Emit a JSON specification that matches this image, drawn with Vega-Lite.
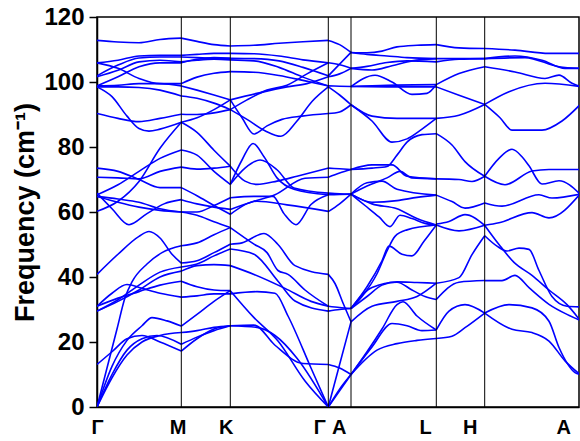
{
  "$schema": "https://vega.github.io/schema/vega-lite/v6.json",
  "width": 482,
  "height": 390,
  "autosize": "none",
  "padding": {"left": 97, "top": 17, "right": 1, "bottom": 34},
  "background": "white",
  "config": {"view": {"stroke": "black", "strokeWidth": 1.5}, "font": "Liberation Sans"},
  "layer": [
    {
      "data": {"values": [
        {"b":"GM1","k":0,"f":112.8},{"b":"GM1","k":21,"f":112.3},{"b":"GM1","k":42,"f":112.1},{"b":"GM1","k":63,"f":113.1},{"b":"GM1","k":84.3,"f":113.5},
        {"b":"GM2","k":0,"f":105.9},{"b":"GM2","k":21,"f":106.7},{"b":"GM2","k":42,"f":108.0},{"b":"GM2","k":63,"f":108.2},{"b":"GM2","k":84.3,"f":108.2},
        {"b":"GM3","k":0,"f":101.9},{"b":"GM3","k":21,"f":105.2},{"b":"GM3","k":42,"f":107.4},{"b":"GM3","k":63,"f":107.7},{"b":"GM3","k":84.3,"f":107.7},
        {"b":"GM4","k":0,"f":101.6},{"b":"GM4","k":21,"f":103.6},{"b":"GM4","k":42,"f":106.2},{"b":"GM4","k":63,"f":106.7},{"b":"GM4","k":84.3,"f":106.2},
        {"b":"GM5","k":0,"f":98.8},{"b":"GM5","k":21,"f":101.6},{"b":"GM5","k":42,"f":104.7},{"b":"GM5","k":63,"f":105.9},{"b":"GM5","k":84.3,"f":105.9},
        {"b":"GM6","k":0,"f":105.9},{"b":"GM6","k":21,"f":104.2},{"b":"GM6","k":42,"f":101.1},{"b":"GM6","k":63,"f":99.5},{"b":"GM6","k":84.3,"f":99.5},
        {"b":"GM7","k":0,"f":98.8},{"b":"GM7","k":21,"f":99.0},{"b":"GM7","k":42,"f":99.5},{"b":"GM7","k":63,"f":99.5},{"b":"GM7","k":84.3,"f":98.8},
        {"b":"GM8","k":0,"f":98.5},{"b":"GM8","k":21,"f":98.5},{"b":"GM8","k":42,"f":98.3},{"b":"GM8","k":63,"f":97.5},{"b":"GM8","k":84.3,"f":95.7},
        {"b":"GM9","k":0,"f":98.5},{"b":"GM9","k":15,"f":95.5},{"b":"GM9","k":30,"f":89.5},{"b":"GM9","k":42,"f":85.7},{"b":"GM9","k":52,"f":84.9},{"b":"GM9","k":63,"f":85.5},{"b":"GM9","k":84.3,"f":87.6},
        {"b":"GM10","k":0,"f":90.3},{"b":"GM10","k":21,"f":88.8},{"b":"GM10","k":42,"f":87.8},{"b":"GM10","k":63,"f":88.8},{"b":"GM10","k":84.3,"f":90.1},
        {"b":"GM11","k":0,"f":60.2},{"b":"GM11","k":21,"f":63.3},{"b":"GM11","k":42,"f":69.4},{"b":"GM11","k":63,"f":79.6},{"b":"GM11","k":84.3,"f":87.6},
        {"b":"GM12","k":0,"f":65.3},{"b":"GM12","k":21,"f":68.4},{"b":"GM12","k":42,"f":72.5},{"b":"GM12","k":63,"f":76.5},{"b":"GM12","k":84.3,"f":79.1},
        {"b":"GM13","k":0,"f":73.5},{"b":"GM13","k":21,"f":72.5},{"b":"GM13","k":42,"f":70},{"b":"GM13","k":63,"f":67.5},{"b":"GM13","k":84.3,"f":67.5},
        {"b":"GM14","k":0,"f":70.7},{"b":"GM14","k":21,"f":70.5},{"b":"GM14","k":42,"f":70.2},{"b":"GM14","k":63,"f":72.5},{"b":"GM14","k":84.3,"f":73.8},
        {"b":"GM15","k":0,"f":65.8},{"b":"GM15","k":15,"f":61},{"b":"GM15","k":32,"f":56.1},{"b":"GM15","k":50,"f":59.5},{"b":"GM15","k":67,"f":62.5},{"b":"GM15","k":84.3,"f":63.8},
        {"b":"GM16","k":0,"f":64.8},{"b":"GM16","k":21,"f":64},{"b":"GM16","k":42,"f":63},{"b":"GM16","k":63,"f":61},{"b":"GM16","k":84.3,"f":60.0},
        {"b":"GM17","k":0,"f":64.8},{"b":"GM17","k":21,"f":63},{"b":"GM17","k":42,"f":61.5},{"b":"GM17","k":63,"f":60.5},{"b":"GM17","k":84.3,"f":60.0},
        {"b":"GM18","k":0,"f":40.8},{"b":"GM18","k":21,"f":47},{"b":"GM18","k":42,"f":52.5},{"b":"GM18","k":52,"f":54},{"b":"GM18","k":63,"f":52},{"b":"GM18","k":75,"f":47},{"b":"GM18","k":84.3,"f":44.3},
        {"b":"GM19","k":0,"f":31.0},{"b":"GM19","k":15,"f":35},{"b":"GM19","k":30,"f":37.7},{"b":"GM19","k":45,"f":36.5},{"b":"GM19","k":63,"f":35},{"b":"GM19","k":84.3,"f":33.8},
        {"b":"GM20","k":0,"f":29.5},{"b":"GM20","k":21,"f":32.5},{"b":"GM20","k":42,"f":36},{"b":"GM20","k":63,"f":40},{"b":"GM20","k":84.3,"f":41.8},
        {"b":"GM21","k":0,"f":31},{"b":"GM21","k":21,"f":33.5},{"b":"GM21","k":42,"f":35.5},{"b":"GM21","k":63,"f":37.5},{"b":"GM21","k":84.3,"f":38.7},
        {"b":"GM22","k":0,"f":0},{"b":"GM22","k":10,"f":12},{"b":"GM22","k":20,"f":24},{"b":"GM22","k":28,"f":33.6},{"b":"GM22","k":35,"f":38.5},{"b":"GM22","k":50,"f":44},{"b":"GM22","k":65,"f":47.5},{"b":"GM22","k":84.3,"f":49.6},
        {"b":"GM23","k":0,"f":0},{"b":"GM23","k":15,"f":12.5},{"b":"GM23","k":30,"f":20.5},{"b":"GM23","k":45,"f":25},{"b":"GM23","k":55,"f":27.5},{"b":"GM23","k":70,"f":26.5},{"b":"GM23","k":84.3,"f":24.9},
        {"b":"GM24","k":0,"f":0},{"b":"GM24","k":15,"f":10},{"b":"GM24","k":30,"f":17.5},{"b":"GM24","k":45,"f":21},{"b":"GM24","k":60,"f":22},{"b":"GM24","k":84.3,"f":19.3},
        {"b":"GM25","k":0,"f":13.1},{"b":"GM25","k":15,"f":17},{"b":"GM25","k":30,"f":21},{"b":"GM25","k":45,"f":22},{"b":"GM25","k":63,"f":20},{"b":"GM25","k":84.3,"f":17.2},
        {"b":"GM26","k":0,"f":0},{"b":"GM26","k":15,"f":9},{"b":"GM26","k":30,"f":16},{"b":"GM26","k":45,"f":20},{"b":"GM26","k":63,"f":22},{"b":"GM26","k":84.3,"f":22.9},
        {"b":"GM27","k":0,"f":29.5},{"b":"GM27","k":21,"f":33},{"b":"GM27","k":42,"f":37.5},{"b":"GM27","k":63,"f":41.5},{"b":"GM27","k":84.3,"f":43.1},

        {"b":"MK1","k":84.3,"f":113.5},{"b":"MK1","k":100,"f":112.5},{"b":"MK1","k":117,"f":111.5},{"b":"MK1","k":133.3,"f":111.1},
        {"b":"MK2","k":84.3,"f":108.2},{"b":"MK2","k":100,"f":108.5},{"b":"MK2","k":117,"f":108.8},{"b":"MK2","k":133.3,"f":108.8},
        {"b":"MK3","k":84.3,"f":107.7},{"b":"MK3","k":100,"f":107.5},{"b":"MK3","k":117,"f":107.3},{"b":"MK3","k":133.3,"f":107.3},
        {"b":"MK4","k":84.3,"f":106.2},{"b":"MK4","k":100,"f":106.7},{"b":"MK4","k":117,"f":107},{"b":"MK4","k":133.3,"f":106.8},
        {"b":"MK5","k":84.3,"f":105.9},{"b":"MK5","k":100,"f":107},{"b":"MK5","k":117,"f":107.5},{"b":"MK5","k":133.3,"f":107.3},
        {"b":"MK6","k":84.3,"f":99.5},{"b":"MK6","k":100,"f":101.5},{"b":"MK6","k":117,"f":102.7},{"b":"MK6","k":133.3,"f":103.2},
        {"b":"MK7","k":84.3,"f":98.8},{"b":"MK7","k":100,"f":97.5},{"b":"MK7","k":117,"f":96},{"b":"MK7","k":133.3,"f":94.5},
        {"b":"MK8","k":84.3,"f":95.7},{"b":"MK8","k":100,"f":95},{"b":"MK8","k":117,"f":93.5},{"b":"MK8","k":133.3,"f":91.5},
        {"b":"MK9","k":84.3,"f":90.1},{"b":"MK9","k":100,"f":90},{"b":"MK9","k":117,"f":90.5},{"b":"MK9","k":133.3,"f":91.5},
        {"b":"MK10","k":84.3,"f":87.6},{"b":"MK10","k":100,"f":89},{"b":"MK10","k":117,"f":91.5},{"b":"MK10","k":133.3,"f":94.5},
        {"b":"MK11","k":84.3,"f":87.6},{"b":"MK11","k":100,"f":84.5},{"b":"MK11","k":117,"f":79},{"b":"MK11","k":133.3,"f":74.1},
        {"b":"MK12","k":84.3,"f":79.1},{"b":"MK12","k":100,"f":77.5},{"b":"MK12","k":117,"f":72.5},{"b":"MK12","k":133.3,"f":68.5},
        {"b":"MK13","k":84.3,"f":73.8},{"b":"MK13","k":100,"f":73.2},{"b":"MK13","k":117,"f":73.5},{"b":"MK13","k":133.3,"f":74.1},
        {"b":"MK14","k":84.3,"f":67.5},{"b":"MK14","k":100,"f":65},{"b":"MK14","k":117,"f":62},{"b":"MK14","k":133.3,"f":59.3},
        {"b":"MK15","k":84.3,"f":63.8},{"b":"MK15","k":100,"f":62.5},{"b":"MK15","k":117,"f":61.5},{"b":"MK15","k":133.3,"f":60.8},
        {"b":"MK16","k":84.3,"f":60},{"b":"MK16","k":100,"f":60},{"b":"MK16","k":117,"f":62},{"b":"MK16","k":133.3,"f":64.4},
        {"b":"MK17","k":84.3,"f":60},{"b":"MK17","k":100,"f":59},{"b":"MK17","k":117,"f":57},{"b":"MK17","k":133.3,"f":55.2},
        {"b":"MK18","k":84.3,"f":49.6},{"b":"MK18","k":100,"f":50.5},{"b":"MK18","k":117,"f":53},{"b":"MK18","k":133.3,"f":55.2},
        {"b":"MK19","k":84.3,"f":44.3},{"b":"MK19","k":100,"f":45},{"b":"MK19","k":117,"f":47.5},{"b":"MK19","k":133.3,"f":50.1},
        {"b":"MK20","k":84.3,"f":43.1},{"b":"MK20","k":100,"f":44},{"b":"MK20","k":117,"f":46.5},{"b":"MK20","k":133.3,"f":48.6},
        {"b":"MK21","k":84.3,"f":41.8},{"b":"MK21","k":100,"f":43.5},{"b":"MK21","k":117,"f":43.8},{"b":"MK21","k":133.3,"f":43.5},
        {"b":"MK22","k":84.3,"f":38.7},{"b":"MK22","k":100,"f":37},{"b":"MK22","k":117,"f":36},{"b":"MK22","k":133.3,"f":35.8},
        {"b":"MK23","k":84.3,"f":33.8},{"b":"MK23","k":100,"f":34.2},{"b":"MK23","k":117,"f":34.8},{"b":"MK23","k":133.3,"f":34.8},
        {"b":"MK24","k":84.3,"f":24.9},{"b":"MK24","k":100,"f":28.5},{"b":"MK24","k":117,"f":32.5},{"b":"MK24","k":133.3,"f":35.8},
        {"b":"MK25","k":84.3,"f":22.9},{"b":"MK25","k":100,"f":23.5},{"b":"MK25","k":117,"f":24.5},{"b":"MK25","k":133.3,"f":25},
        {"b":"MK26","k":84.3,"f":19.3},{"b":"MK26","k":100,"f":21.5},{"b":"MK26","k":117,"f":23.5},{"b":"MK26","k":133.3,"f":25},
        {"b":"MK27","k":84.3,"f":17.2},{"b":"MK27","k":100,"f":21},{"b":"MK27","k":117,"f":24},{"b":"MK27","k":133.3,"f":25},

        {"b":"KG1","k":133.3,"f":111.1},{"b":"KG1","k":157,"f":111.3},{"b":"KG1","k":182,"f":111.9},{"b":"KG1","k":206,"f":112.4},{"b":"KG1","k":231.3,"f":112.8},
        {"b":"KG2","k":133.3,"f":108.8},{"b":"KG2","k":157,"f":108.7},{"b":"KG2","k":182,"f":108},{"b":"KG2","k":206,"f":106.8},{"b":"KG2","k":231.3,"f":105.9},
        {"b":"KG3","k":133.3,"f":107.3},{"b":"KG3","k":157,"f":107.2},{"b":"KG3","k":182,"f":106.5},{"b":"KG3","k":206,"f":104.5},{"b":"KG3","k":231.3,"f":101.9},
        {"b":"KG4","k":133.3,"f":106.8},{"b":"KG4","k":157,"f":106.5},{"b":"KG4","k":182,"f":104.5},{"b":"KG4","k":206,"f":101.5},{"b":"KG4","k":231.3,"f":98.8},
        {"b":"KG5","k":133.3,"f":103.2},{"b":"KG5","k":157,"f":103},{"b":"KG5","k":182,"f":102},{"b":"KG5","k":206,"f":100.5},{"b":"KG5","k":231.3,"f":98.8},
        {"b":"KG6","k":133.3,"f":94.5},{"b":"KG6","k":145,"f":89},{"b":"KG6","k":157,"f":84},{"b":"KG6","k":170,"f":86.5},{"b":"KG6","k":185,"f":88.5},{"b":"KG6","k":205,"f":89.5},{"b":"KG6","k":231.3,"f":90.3},
        {"b":"KG7","k":133.3,"f":91.5},{"b":"KG7","k":150,"f":88.5},{"b":"KG7","k":168,"f":85},{"b":"KG7","k":184,"f":83.3},{"b":"KG7","k":200,"f":88},{"b":"KG7","k":215,"f":94},{"b":"KG7","k":231.3,"f":98.5},
        {"b":"KG8","k":133.3,"f":91.5},{"b":"KG8","k":150,"f":94.5},{"b":"KG8","k":170,"f":97.5},{"b":"KG8","k":190,"f":99},{"b":"KG8","k":210,"f":102.5},{"b":"KG8","k":231.3,"f":105.9},
        {"b":"KG9","k":133.3,"f":94.5},{"b":"KG9","k":160,"f":96.5},{"b":"KG9","k":190,"f":98.5},{"b":"KG9","k":210,"f":99.5},{"b":"KG9","k":231.3,"f":101.6},
        {"b":"KG10","k":133.3,"f":68.5},{"b":"KG10","k":145,"f":76},{"b":"KG10","k":156,"f":81.1},{"b":"KG10","k":167,"f":77},{"b":"KG10","k":180,"f":70.5},{"b":"KG10","k":197,"f":67},{"b":"KG10","k":231.3,"f":65.3},
        {"b":"KG11","k":133.3,"f":74.1},{"b":"KG11","k":148,"f":69.5},{"b":"KG11","k":160,"f":68.5},{"b":"KG11","k":180,"f":69.5},{"b":"KG11","k":200,"f":71},{"b":"KG11","k":231.3,"f":73.5},
        {"b":"KG12","k":133.3,"f":68.5},{"b":"KG12","k":148,"f":73.5},{"b":"KG12","k":163,"f":76},{"b":"KG12","k":180,"f":73},{"b":"KG12","k":197,"f":67.4},{"b":"KG12","k":231.3,"f":65.8},
        {"b":"KG13","k":133.3,"f":64.4},{"b":"KG13","k":157,"f":64.8},{"b":"KG13","k":176,"f":64.8},{"b":"KG13","k":187,"f":59.5},{"b":"KG13","k":199,"f":56.1},{"b":"KG13","k":214,"f":62.3},{"b":"KG13","k":231.3,"f":65.3},
        {"b":"KG14","k":133.3,"f":60.8},{"b":"KG14","k":157,"f":63.3},{"b":"KG14","k":178,"f":65.3},{"b":"KG14","k":208,"f":70.4},{"b":"KG14","k":231.3,"f":70.7},
        {"b":"KG15","k":133.3,"f":59.3},{"b":"KG15","k":160,"f":63.3},{"b":"KG15","k":190,"f":62.2},{"b":"KG15","k":231.3,"f":60.2},
        {"b":"KG16","k":133.3,"f":55.2},{"b":"KG16","k":157,"f":50.1},{"b":"KG16","k":170,"f":47.5},{"b":"KG16","k":181,"f":42},{"b":"KG16","k":191,"f":40.8},{"b":"KG16","k":208,"f":36},{"b":"KG16","k":231.3,"f":31.0},
        {"b":"KG17","k":133.3,"f":50.1},{"b":"KG17","k":145,"f":50.5},{"b":"KG17","k":167,"f":53.4},{"b":"KG17","k":181,"f":50},{"b":"KG17","k":198,"f":43.5},{"b":"KG17","k":231.3,"f":40.8},
        {"b":"KG18","k":133.3,"f":48.6},{"b":"KG18","k":157,"f":47},{"b":"KG18","k":181,"f":38.7},{"b":"KG18","k":198,"f":32.6},{"b":"KG18","k":231.3,"f":29.5},
        {"b":"KG19","k":133.3,"f":43.5},{"b":"KG19","k":157,"f":40.8},{"b":"KG19","k":188,"f":36.5},{"b":"KG19","k":214,"f":32.5},{"b":"KG19","k":231.3,"f":31},
        {"b":"KG20","k":133.3,"f":35.8},{"b":"KG20","k":157,"f":27.5},{"b":"KG20","k":181,"f":20.3},{"b":"KG20","k":208,"f":8},{"b":"KG20","k":231.3,"f":0},
        {"b":"KG21","k":133.3,"f":34.8},{"b":"KG21","k":160,"f":35.5},{"b":"KG21","k":178,"f":35},{"b":"KG21","k":191,"f":28},{"b":"KG21","k":214,"f":12},{"b":"KG21","k":231.3,"f":0},
        {"b":"KG22","k":133.3,"f":25},{"b":"KG22","k":160,"f":24.5},{"b":"KG22","k":178,"f":22},{"b":"KG22","k":200,"f":15},{"b":"KG22","k":231.3,"f":0},
        {"b":"KG23","k":133.3,"f":25},{"b":"KG23","k":157,"f":25.2},{"b":"KG23","k":178,"f":19},{"b":"KG23","k":206,"f":13.4},{"b":"KG23","k":231.3,"f":13.1},

        {"b":"GA1","k":231.3,"f":112.8},{"b":"GA1","k":242.6,"f":111.5},{"b":"GA1","k":254,"f":109.1},
        {"b":"GA2","k":231.3,"f":105.9},{"b":"GA2","k":242.6,"f":105.3},{"b":"GA2","k":254,"f":104.2},
        {"b":"GA3","k":231.3,"f":101.9},{"b":"GA3","k":242.6,"f":105.5},{"b":"GA3","k":254,"f":109.1},
        {"b":"GA4","k":231.3,"f":101.6},{"b":"GA4","k":242.6,"f":102.5},{"b":"GA4","k":254,"f":104.2},
        {"b":"GA5","k":231.3,"f":98.8},{"b":"GA5","k":242.6,"f":98.7},{"b":"GA5","k":254,"f":98.6},
        {"b":"GA6","k":231.3,"f":98.5},{"b":"GA6","k":242.6,"f":96},{"b":"GA6","k":254,"f":93},
        {"b":"GA7","k":231.3,"f":90.3},{"b":"GA7","k":242.6,"f":90.8},{"b":"GA7","k":254,"f":93},
        {"b":"GA8","k":231.3,"f":73.5},{"b":"GA8","k":242.6,"f":73.3},{"b":"GA8","k":254,"f":73.1},
        {"b":"GA9","k":231.3,"f":70.7},{"b":"GA9","k":242.6,"f":72},{"b":"GA9","k":254,"f":73.1},
        {"b":"GA10","k":231.3,"f":65.8},{"b":"GA10","k":242.6,"f":65.6},{"b":"GA10","k":254,"f":65.5},
        {"b":"GA11","k":231.3,"f":65.3},{"b":"GA11","k":242.6,"f":65.4},{"b":"GA11","k":254,"f":65.5},
        {"b":"GA12","k":231.3,"f":60.1},{"b":"GA12","k":242.6,"f":62.5},{"b":"GA12","k":254,"f":65.5},
        {"b":"GA13","k":231.3,"f":40.8},{"b":"GA13","k":238,"f":38},{"b":"GA13","k":246,"f":32},{"b":"GA13","k":254,"f":26.2},
        {"b":"GA14","k":231.3,"f":31},{"b":"GA14","k":242.6,"f":30.6},{"b":"GA14","k":254,"f":30.3},
        {"b":"GA15","k":231.3,"f":29.5},{"b":"GA15","k":242.6,"f":30},{"b":"GA15","k":254,"f":30.3},
        {"b":"GA16","k":231.3,"f":13.1},{"b":"GA16","k":242.6,"f":12},{"b":"GA16","k":254,"f":10},
        {"b":"GA17","k":231.3,"f":0},{"b":"GA17","k":242.6,"f":13.1},{"b":"GA17","k":254,"f":26.2},
        {"b":"GA18","k":231.3,"f":0},{"b":"GA18","k":242.6,"f":5},{"b":"GA18","k":254,"f":10},
        {"b":"GA19","k":231.3,"f":0},{"b":"GA19","k":242.6,"f":5.5},{"b":"GA19","k":254,"f":10},

        {"b":"AL1","k":254,"f":109.1},{"b":"AL1","k":270,"f":109},{"b":"AL1","k":285,"f":109.5},{"b":"AL1","k":300,"f":110.8},{"b":"AL1","k":320,"f":111.3},{"b":"AL1","k":339.3,"f":111.5},
        {"b":"AL2","k":254,"f":109.1},{"b":"AL2","k":270,"f":108.5},{"b":"AL2","k":290,"f":108},{"b":"AL2","k":310,"f":107.5},{"b":"AL2","k":339.3,"f":107.2},
        {"b":"AL3","k":254,"f":104.2},{"b":"AL3","k":270,"f":104.8},{"b":"AL3","k":290,"f":106},{"b":"AL3","k":310,"f":106.5},{"b":"AL3","k":339.3,"f":106.2},
        {"b":"AL4","k":254,"f":104.2},{"b":"AL4","k":275,"f":103.7},{"b":"AL4","k":295,"f":105},{"b":"AL4","k":315,"f":106.5},{"b":"AL4","k":339.3,"f":107.2},
        {"b":"AL5","k":254,"f":98.6},{"b":"AL5","k":278,"f":102.1},{"b":"AL5","k":295,"f":100},{"b":"AL5","k":315,"f":96.2},{"b":"AL5","k":330,"f":96.5},{"b":"AL5","k":339.3,"f":99.2},
        {"b":"AL6","k":254,"f":98.6},{"b":"AL6","k":290,"f":99},{"b":"AL6","k":339.3,"f":99.2},
        {"b":"AL7","k":254,"f":98.6},{"b":"AL7","k":290,"f":98.5},{"b":"AL7","k":339.3,"f":98.5},
        {"b":"AL8","k":254,"f":93},{"b":"AL8","k":275,"f":88},{"b":"AL8","k":295,"f":81.5},{"b":"AL8","k":310,"f":82.5},{"b":"AL8","k":325,"f":85.5},{"b":"AL8","k":339.3,"f":88.8},
        {"b":"AL9","k":254,"f":93},{"b":"AL9","k":275,"f":89.5},{"b":"AL9","k":300,"f":88.8},{"b":"AL9","k":339.3,"f":88.8},
        {"b":"AM1","k":254,"f":73.1},{"b":"AM1","k":275,"f":73.5},{"b":"AM1","k":290,"f":74},{"b":"AM1","k":300,"f":77.5},{"b":"AM1","k":310,"f":81.5},{"b":"AM1","k":325,"f":83.8},{"b":"AM1","k":339.3,"f":84.1},
        {"b":"AM2","k":254,"f":73.1},{"b":"AM2","k":275,"f":74.5},{"b":"AM2","k":295,"f":74.5},{"b":"AM2","k":310,"f":71},{"b":"AM2","k":339.3,"f":70.2},
        {"b":"AM3","k":254,"f":65.5},{"b":"AM3","k":270,"f":69},{"b":"AM3","k":285,"f":69.5},{"b":"AM3","k":300,"f":67},{"b":"AM3","k":339.3,"f":65.2},
        {"b":"AM4","k":254,"f":65.5},{"b":"AM4","k":268,"f":62},{"b":"AM4","k":282,"f":58.5},{"b":"AM4","k":293,"f":55.5},{"b":"AM4","k":303,"f":59},{"b":"AM4","k":315,"f":58},{"b":"AM4","k":328,"f":56.5},{"b":"AM4","k":339.3,"f":56},
        {"b":"AM5","k":254,"f":65.5},{"b":"AM5","k":275,"f":63},{"b":"AM5","k":300,"f":63.5},{"b":"AM5","k":320,"f":64.5},{"b":"AM5","k":339.3,"f":65.2},
        {"b":"AM6","k":254,"f":65.5},{"b":"AM6","k":275,"f":62.5},{"b":"AM6","k":300,"f":61},{"b":"AM6","k":320,"f":58},{"b":"AM6","k":339.3,"f":56},
        {"b":"AM7","k":254,"f":65.5},{"b":"AM7","k":270,"f":68},{"b":"AM7","k":290,"f":70.5},{"b":"AM7","k":303,"f":72.5},{"b":"AM7","k":315,"f":70.5},{"b":"AM7","k":339.3,"f":70.2},
        {"b":"LM1","k":254,"f":30.3},{"b":"LM1","k":265,"f":34},{"b":"LM1","k":280,"f":41},{"b":"LM1","k":290,"f":48},{"b":"LM1","k":298,"f":52.5},{"b":"LM1","k":310,"f":54.5},{"b":"LM1","k":339.3,"f":56},
        {"b":"LM2","k":254,"f":30.3},{"b":"LM2","k":270,"f":37},{"b":"LM2","k":285,"f":45},{"b":"LM2","k":292,"f":49.5},{"b":"LM2","k":305,"f":47},{"b":"LM2","k":315,"f":46.5},{"b":"LM2","k":327,"f":51},{"b":"LM2","k":339.3,"f":56},
        {"b":"LL1","k":254,"f":30.3},{"b":"LL1","k":270,"f":34},{"b":"LL1","k":285,"f":37.5},{"b":"LL1","k":300,"f":38.5},{"b":"LL1","k":320,"f":38.3},{"b":"LL1","k":339.3,"f":38.1},
        {"b":"LL2","k":254,"f":30.3},{"b":"LL2","k":275,"f":36.8},{"b":"LL2","k":300,"f":38.4},{"b":"LL2","k":315,"f":36},{"b":"LL2","k":328,"f":34},{"b":"LL2","k":339.3,"f":33.1},
        {"b":"LL3","k":254,"f":26.2},{"b":"LL3","k":275,"f":31},{"b":"LL3","k":300,"f":32.5},{"b":"LL3","k":320,"f":34},{"b":"LL3","k":339.3,"f":38.1},
        {"b":"LL4","k":254,"f":10},{"b":"LL4","k":270,"f":17},{"b":"LL4","k":285,"f":24},{"b":"LL4","k":300,"f":31.5},{"b":"LL4","k":306,"f":32.4},{"b":"LL4","k":320,"f":28},{"b":"LL4","k":339.3,"f":23.7},
        {"b":"LL5","k":254,"f":10},{"b":"LL5","k":275,"f":18.5},{"b":"LL5","k":295,"f":25.7},{"b":"LL5","k":310,"f":25},{"b":"LL5","k":325,"f":23.5},{"b":"LL5","k":339.3,"f":23.7},
        {"b":"LL6","k":254,"f":10},{"b":"LL6","k":280,"f":17.5},{"b":"LL6","k":300,"f":19.5},{"b":"LL6","k":320,"f":20.5},{"b":"LL6","k":339.3,"f":21.1},

        {"b":"LH1","k":339.3,"f":111.5},{"b":"LH1","k":362,"f":110.5},{"b":"LH1","k":387.7,"f":110.3},
        {"b":"LH2","k":339.3,"f":107.2},{"b":"LH2","k":362,"f":107.2},{"b":"LH2","k":387.7,"f":107.2},
        {"b":"LH3","k":339.3,"f":106.2},{"b":"LH3","k":362,"f":107},{"b":"LH3","k":387.7,"f":107.2},
        {"b":"LH4","k":339.3,"f":99.2},{"b":"LH4","k":362,"f":102.6},{"b":"LH4","k":387.7,"f":104.7},
        {"b":"LH5","k":339.3,"f":98.5},{"b":"LH5","k":362,"f":95.9},{"b":"LH5","k":387.7,"f":93.1},
        {"b":"LH6","k":339.3,"f":88.8},{"b":"LH6","k":362,"f":89.8},{"b":"LH6","k":387.7,"f":93.1},
        {"b":"LH7","k":339.3,"f":84.1},{"b":"LH7","k":355,"f":80.6},{"b":"LH7","k":368,"f":75.5},{"b":"LH7","k":387.7,"f":71},
        {"b":"LH8","k":339.3,"f":70.2},{"b":"LH8","k":362,"f":70},{"b":"LH8","k":375,"f":69.4},{"b":"LH8","k":387.7,"f":71},
        {"b":"LH9","k":339.3,"f":65.2},{"b":"LH9","k":355,"f":63.2},{"b":"LH9","k":368,"f":61.2},{"b":"LH9","k":387.7,"f":62.8},
        {"b":"LH10","k":339.3,"f":56.3},{"b":"LH10","k":352,"f":57.1},{"b":"LH10","k":368,"f":59.2},{"b":"LH10","k":387.7,"f":55.9},
        {"b":"LH11","k":339.3,"f":56},{"b":"LH11","k":362,"f":54.2},{"b":"LH11","k":387.7,"f":55.9},
        {"b":"LH12","k":339.3,"f":38.1},{"b":"LH12","k":362,"f":39.8},{"b":"LH12","k":375,"f":46.9},{"b":"LH12","k":387.7,"f":52.7},
        {"b":"LH13","k":339.3,"f":33.1},{"b":"LH13","k":362,"f":38.4},{"b":"LH13","k":387.7,"f":38.9},
        {"b":"LH14","k":339.3,"f":23.7},{"b":"LH14","k":352,"f":29.5},{"b":"LH14","k":368,"f":31.5},{"b":"LH14","k":387.7,"f":28.9},
        {"b":"LH15","k":339.3,"f":21.1},{"b":"LH15","k":355,"f":21.8},{"b":"LH15","k":368,"f":24.4},{"b":"LH15","k":387.7,"f":28.9},

        {"b":"HA1","k":387.7,"f":110.3},{"b":"HA1","k":418,"f":109.8},{"b":"HA1","k":452,"f":108.8},{"b":"HA1","k":483,"f":108.8},
        {"b":"HA2","k":387.7,"f":107.2},{"b":"HA2","k":418,"f":108},{"b":"HA2","k":445,"f":106.7},{"b":"HA2","k":468,"f":104.2},{"b":"HA2","k":483,"f":104.2},
        {"b":"HA3","k":387.7,"f":107.2},{"b":"HA3","k":428,"f":107.5},{"b":"HA3","k":462,"f":104.7},{"b":"HA3","k":483,"f":104.2},
        {"b":"HA4","k":387.7,"f":104.7},{"b":"HA4","k":418,"f":103.1},{"b":"HA4","k":448,"f":101.1},{"b":"HA4","k":462,"f":102.1},{"b":"HA4","k":475,"f":99.6},{"b":"HA4","k":483,"f":98.6},
        {"b":"HA5","k":387.7,"f":93.1},{"b":"HA5","k":412,"f":97},{"b":"HA5","k":448,"f":99.6},{"b":"HA5","k":483,"f":98.6},
        {"b":"HA6","k":387.7,"f":93.1},{"b":"HA6","k":403,"f":89},{"b":"HA6","k":415,"f":85.2},{"b":"HA6","k":445,"f":85.2},{"b":"HA6","k":465,"f":88},{"b":"HA6","k":483,"f":93},
        {"b":"HA7","k":387.7,"f":71},{"b":"HA7","k":402,"f":76.5},{"b":"HA7","k":415,"f":79.3},{"b":"HA7","k":425,"f":77},{"b":"HA7","k":432,"f":74.2},{"b":"HA7","k":445,"f":68.6},{"b":"HA7","k":462,"f":69.6},{"b":"HA7","k":483,"f":65.5},
        {"b":"HA8","k":387.7,"f":71},{"b":"HA8","k":408,"f":68.4},{"b":"HA8","k":435,"f":72.6},{"b":"HA8","k":452,"f":73.1},{"b":"HA8","k":483,"f":73.1},
        {"b":"HA9","k":387.7,"f":62.8},{"b":"HA9","k":405,"f":61.8},{"b":"HA9","k":442,"f":65.3},{"b":"HA9","k":455,"f":64.3},{"b":"HA9","k":483,"f":65.5},
        {"b":"HA10","k":387.7,"f":55.9},{"b":"HA10","k":402,"f":56.7},{"b":"HA10","k":435,"f":59.8},{"b":"HA10","k":452,"f":58.2},{"b":"HA10","k":483,"f":65.5},
        {"b":"HA11","k":387.7,"f":52.7},{"b":"HA11","k":400,"f":49.5},{"b":"HA11","k":410,"f":48},{"b":"HA11","k":422,"f":48.9},{"b":"HA11","k":432,"f":48.5},{"b":"HA11","k":442,"f":42},{"b":"HA11","k":455,"f":34},{"b":"HA11","k":470,"f":31},{"b":"HA11","k":483,"f":30.8},
        {"b":"HA12","k":387.7,"f":55.9},{"b":"HA12","k":402,"f":50},{"b":"HA12","k":417,"f":44.5},{"b":"HA12","k":435,"f":40.5},{"b":"HA12","k":452,"f":36},{"b":"HA12","k":470,"f":31.5},{"b":"HA12","k":483,"f":26.7},
        {"b":"HA13","k":387.7,"f":38.9},{"b":"HA13","k":405,"f":38.9},{"b":"HA13","k":418,"f":40.5},{"b":"HA13","k":432,"f":36.7},{"b":"HA13","k":452,"f":31.6},{"b":"HA13","k":470,"f":28.5},{"b":"HA13","k":483,"f":26.7},
        {"b":"HA14","k":387.7,"f":28.9},{"b":"HA14","k":412,"f":31.5},{"b":"HA14","k":435,"f":30.5},{"b":"HA14","k":452,"f":26.4},{"b":"HA14","k":462,"f":18.3},{"b":"HA14","k":478,"f":10.6},{"b":"HA14","k":483,"f":10},
        {"b":"HA15","k":387.7,"f":28.9},{"b":"HA15","k":415,"f":23.9},{"b":"HA15","k":435,"f":22.9},{"b":"HA15","k":452,"f":20.3},{"b":"HA15","k":468,"f":14.2},{"b":"HA15","k":483,"f":10}
      ]},
      "mark": {"type": "line", "color": "#0000ff", "strokeWidth": 1.6, "interpolate": "monotone", "clip": true},
      "encoding": {
        "x": {
          "field": "k", "type": "quantitative",
          "scale": {"domain": [0, 482], "nice": false, "zero": false},
          "axis": {
            "title": null, "grid": false, "ticks": false,
            "values": [0, 80.7, 128.8, 222.3, 241.7, 328, 372.7, 466.3],
            "labelExpr": "datum.value < 40 ? 'Γ' : datum.value < 100 ? 'M' : datum.value < 200 ? 'K' : datum.value < 230 ? 'Γ' : datum.value < 300 ? 'A' : datum.value < 350 ? 'L' : datum.value < 400 ? 'H' : 'A'",
            "labelFont": "Liberation Sans", "labelFontSize": 20, "labelFontWeight": "bold", "labelColor": "black",
            "labelPadding": 10, "labelFlush": false, "labelOverlap": false,
            "domainColor": "black", "domainWidth": 1.5
          }
        },
        "y": {
          "field": "f", "type": "quantitative",
          "scale": {"domain": [0, 120], "nice": false},
          "axis": {
            "title": "Frequency (cm⁻¹)", "grid": false,
            "values": [0, 20, 40, 60, 80, 100, 120],
            "tickSize": 8, "tickWidth": 1.5, "tickColor": "black",
            "labelFont": "Liberation Sans", "labelFontSize": 24, "labelFontWeight": "bold", "labelColor": "black",
            "labelPadding": 5, "labelFlush": false,
            "titleFont": "Liberation Sans", "titleFontSize": 27, "titleFontWeight": "bold", "titleColor": "black",
            "titlePadding": 4,
            "domainColor": "black", "domainWidth": 1.5
          }
        },
        "detail": {"field": "b", "type": "nominal"}
      }
    },
    {
      "data": {"values": [{"k": 84.3}, {"k": 133.3}, {"k": 231.3}, {"k": 254}, {"k": 339.3}, {"k": 387.7}]},
      "mark": {"type": "rule", "color": "black", "strokeWidth": 1},
      "encoding": {"x": {"field": "k", "type": "quantitative"}}
    }
  ]
}
